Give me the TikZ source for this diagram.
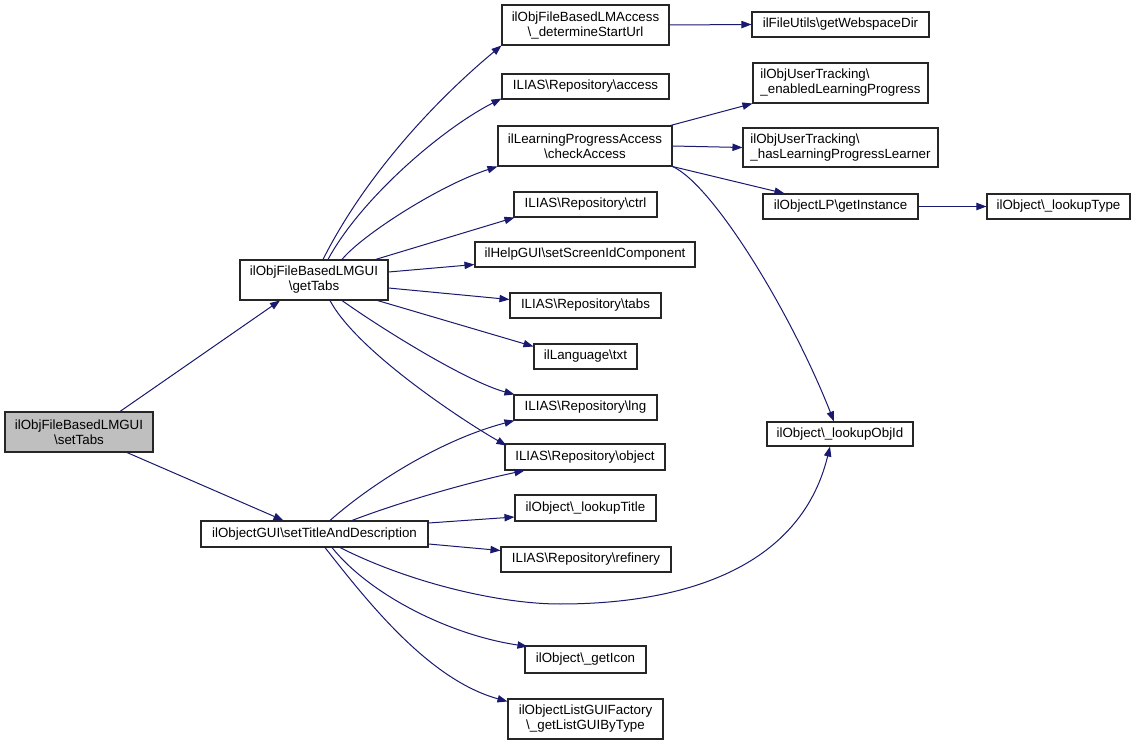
\documentclass[tikz,border=0pt]{standalone}
\usepackage{fontspec}
\setmainfont{Liberation Sans}
\usetikzlibrary{arrows.meta,calc}
\definecolor{edgecol}{HTML}{191970}
\definecolor{rootfill}{HTML}{BFBFBF}
\begin{document}
\begin{tikzpicture}[x=0.75pt,y=-0.75pt,
  box/.style={draw=black!85, line width=0.8pt, fill=white, align=center, inner sep=0pt,
    font=\fontsize{10}{11.25}\selectfont},
  sz/.style 2 args={minimum width=#1*0.75pt, minimum height=#2*0.75pt},
  edge/.style={draw=edgecol, line width=0.75pt, -{Triangle[length=7.5pt,width=5.5pt]}}]
\useasboundingbox[fill=white] (0,0) rectangle (1136,745);

% nodes
\node[box,sz={148}{40},fill=rootfill] (st) at (79,432) {ilObjFileBasedLMGUI\\\textbackslash setTabs};
\node[box,sz={148}{40}] (gt) at (314,280) {ilObjFileBasedLMGUI\\\textbackslash getTabs};
\node[box,sz={227}{26}] (td) at (314.5,534) {ilObjectGUI\textbackslash setTitleAndDescription};
\node[box,sz={167}{40}] (dsu) at (585.5,25) {ilObjFileBasedLMAccess\\\textbackslash \_determineStartUrl};
\node[box,sz={177}{25}] (gwd) at (840.5,24.5) {ilFileUtils\textbackslash getWebspaceDir};
\node[box,sz={167}{25}] (acc) at (585.5,86.5) {ILIAS\textbackslash Repository\textbackslash access};
\node[box,sz={174}{40}] (ca) at (585,146) {ilLearningProgressAccess\\\textbackslash checkAccess};
\node[box,sz={175}{40},align=left] (elp) at (840.5,83) {ilObjUserTracking\textbackslash\\\_enabledLearningProgress};
\node[box,sz={195}{39},align=left] (hlp) at (840.5,147.5) {ilObjUserTracking\textbackslash\\\_hasLearningProgressLearner};
\node[box,sz={155}{25}] (gi) at (840.5,206.5) {ilObjectLP\textbackslash getInstance};
\node[box,sz={143}{25}] (lt) at (1058.5,206.5) {ilObject\textbackslash\_lookupType};
\node[box,sz={143}{25}] (ctrl) at (585.5,204.5) {ILIAS\textbackslash Repository\textbackslash ctrl};
\node[box,sz={220}{25}] (ssc) at (585,254.5) {ilHelpGUI\textbackslash setScreenIdComponent};
\node[box,sz={151}{25}] (tabs) at (585.5,305.5) {ILIAS\textbackslash Repository\textbackslash tabs};
\node[box,sz={103}{25}] (txt) at (585.5,356.5) {ilLanguage\textbackslash txt};
\node[box,sz={143}{25}] (lng) at (585.5,407.5) {ILIAS\textbackslash Repository\textbackslash lng};
\node[box,sz={160}{26}] (obj) at (585,457) {ILIAS\textbackslash Repository\textbackslash object};
\node[box,sz={141}{26}] (ltt) at (585.5,508) {ilObject\textbackslash\_lookupTitle};
\node[box,sz={170}{25}] (ref) at (586,559.5) {ILIAS\textbackslash Repository\textbackslash refinery};
\node[box,sz={121}{27}] (gic) at (585.5,659.5) {ilObject\textbackslash\_getIcon};
\node[box,sz={155}{40}] (glg) at (585.5,719) {ilObjectListGUIFactory\\\textbackslash \_getListGUIByType};
\node[box,sz={146}{24}] (loi) at (840,434) {ilObject\textbackslash\_lookupObjId};

% edges from setTabs
\draw[edge] ($(st.north)+(41,0)$) -- ($(gt.south)+(-34,0)$);
\draw[edge] ($(st.south)+(48,0)$) -- ($(td.north)+(-31,0)$);

% edges from getTabs
\draw[edge] ($(gt.north)+(9,0)$) .. controls (363,180) and (430,105) .. (dsu.south west);
\draw[edge] ($(gt.north)+(14,0)$) .. controls (360,200) and (440,130) .. ($(acc.south west)+(0,-1)$);
\draw[edge] ($(gt.north)+(28,0)$) .. controls (362,235) and (440,185) .. (ca.south west);
\draw[edge] ($(gt.north east)+(-13,0)$) -- ($(ctrl.south west)+(1,0)$);
\draw[edge] ($(gt.east)+(0,-8)$) -- ($(ssc.south west)+(0,-3)$);
\draw[edge] ($(gt.east)+(0,8)$) -- ($(tabs.west)+(0,-6)$);
\draw[edge] ($(gt.south east)+(-11,0)$) -- ($(txt.north west)+(0,3)$);
\draw[edge] ($(gt.south)+(28,0)$) .. controls (385,331) and (468,382) .. ($(lng.north west)+(1,0)$);
\draw[edge] ($(gt.south)+(16,0)$) .. controls (358,353) and (470,425) .. ($(obj.north west)+(2,2)$);

% edges from determineStartUrl / checkAccess / getInstance
\draw[edge] (dsu.east) -- (gwd.west);
\draw[edge] ($(ca.north east)+(-2,0)$) -- (elp.south west);
\draw[edge] (ca.east) -- (hlp.west);
\draw[edge] (ca.south east) -- ($(gi.north west)+(22,0)$);
\draw[edge] (ca.south east) .. controls (712,184) and (790,310) .. ($(loi.north)+(-6,0)$);
\draw[edge] (gi.east) -- (lt.west);

% edges from setTitleAndDescription
\draw[edge] ($(td.north)+(15.5,0)$) .. controls (370,485) and (440,440) .. ($(lng.south west)+(1,0)$);
\draw[edge] ($(td.north)+(37.5,0)$) .. controls (400,502) and (470,482) .. ($(obj.south west)+(20,0)$);
\draw[edge] ($(td.east)+(0,-11)$) -- ($(ltt.west)+(0,9)$);
\draw[edge] ($(td.east)+(0,10)$) -- ($(ref.west)+(0,-9)$);
\draw[edge] ($(td.south)+(25.5,0)$) .. controls (410,583) and (500,604) .. (560,604)
   .. controls (680,604) and (800,570) .. ($(loi.south)+(-10,0)$);
\draw[edge] ($(td.south)+(17.5,0)$) .. controls (370,595) and (450,635) .. ($(gic.north west)+(3,1)$);
\draw[edge] ($(td.south)+(10.5,0)$) .. controls (370,605) and (430,680) .. ($(glg.north west)+(0,3)$);
\end{tikzpicture}
\end{document}
